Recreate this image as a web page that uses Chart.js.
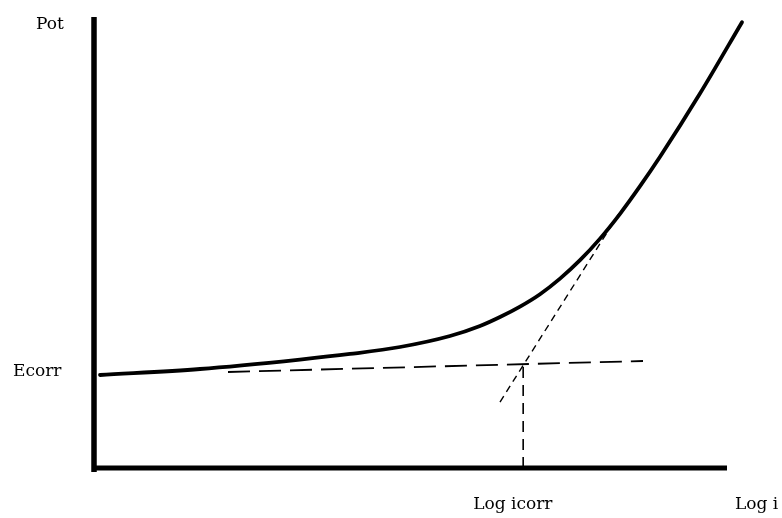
<!DOCTYPE html>
<html>
<head>
<meta charset="utf-8">
<script src="https://cdn.jsdelivr.net/npm/chart.js@4.4.1/dist/chart.umd.min.js"></script>
<style>
  html, body { margin: 0; padding: 0; background: #fff; }
  #wrap { position: relative; width: 782px; height: 518px; }
</style>
</head>
<body>
<div id="wrap"><canvas id="c"></canvas></div>
<script>
// ---- data (arbitrary units: x = log i, y = potential) ----
const curveX = [0.095, 1.675, 3.254, 4.044, 4.834, 5.624, 6.098, 6.414, 6.730, 7.046, 7.362, 7.678, 7.994, 8.310, 8.626, 8.942, 9.573, 10.237];
const curveY = [2.062, 2.195, 2.404, 2.528, 2.683, 2.927, 3.149, 3.348, 3.579, 3.854, 4.200, 4.608, 5.086, 5.636, 6.248, 6.900, 8.302, 9.885];

const cathTangentX = [2.117, 8.673];   // near-horizontal extrapolation
const cathTangentY = [2.129, 2.373];
const anodTangentX = [6.414, 8.310];   // Tafel slope extrapolation
const anodTangentY = [1.463, 5.676];

const logIcorr = 6.78;
const eAtIcorr = 2.30;
const ecorr = 2.062;

const axisXEnd = 10.0;
const axisYEnd = 10.0;

const labelTexts = ["Pot", "Ecorr", "Log icorr", "Log i"];

// ---- helpers ----
const pts = (xs, ys) => xs.map((x, i) => ({ x: x, y: ys[i] }));

const AREA = { x0: 94, xu: 63.3, y0: 468, yu: 45.1, w: 782, h: 518 };

const labelPlugin = {
  id: 'labels',
  afterDraw(chart) {
    const ctx = chart.ctx;
    const xs = chart.scales.x, ys = chart.scales.y;
    ctx.save();
    ctx.fillStyle = '#000';
    ctx.font = '17px "DejaVu Serif", serif';
    ctx.textBaseline = 'alphabetic';
    ctx.textAlign = 'left';
    const ax = xs.getPixelForValue(0);
    const ay = ys.getPixelForValue(0);
    ctx.fillText(labelTexts[0], ax - 58, ys.getPixelForValue(axisYEnd) + 12);
    ctx.fillText(labelTexts[1], 13, ys.getPixelForValue(ecorr) + 1);
    ctx.fillText(labelTexts[2], xs.getPixelForValue(logIcorr) - 50, ay + 41);
    ctx.fillText(labelTexts[3], xs.getPixelForValue(axisXEnd) + 8, ay + 41);
    ctx.restore();
  }
};

new Chart(document.getElementById('c'), {
  type: 'scatter',
  data: {
    datasets: [
      { // y axis
        data: [{ x: 0, y: -0.09 }, { x: 0, y: axisYEnd }],
        showLine: true, borderColor: '#000', borderWidth: 5.5, pointRadius: 0, borderCapStyle: 'butt'
      },
      { // x axis
        data: [{ x: -0.03, y: 0 }, { x: axisXEnd, y: 0 }],
        showLine: true, borderColor: '#000', borderWidth: 5, pointRadius: 0, borderCapStyle: 'butt'
      },
      { // polarization curve
        data: pts(curveX, curveY),
        showLine: true, borderColor: '#000', borderWidth: 3.8, pointRadius: 0,
        cubicInterpolationMode: 'monotone', borderCapStyle: 'round'
      },
      { // near-horizontal tangent
        data: pts(cathTangentX, cathTangentY),
        showLine: true, borderColor: '#000', borderWidth: 1.8, pointRadius: 0,
        borderDash: [22, 9], borderCapStyle: 'butt'
      },
      { // steep tangent
        data: pts(anodTangentX, anodTangentY),
        showLine: true, borderColor: '#000', borderWidth: 1.4, pointRadius: 0,
        borderDash: [7, 5], borderCapStyle: 'butt'
      },
      { // vertical drop to log icorr
        data: [{ x: logIcorr, y: 0 }, { x: logIcorr, y: eAtIcorr }],
        showLine: true, borderColor: '#000', borderWidth: 1.6, pointRadius: 0,
        borderDash: [11, 7], borderCapStyle: 'butt'
      }
    ]
  },
  options: {
    responsive: true,
    maintainAspectRatio: false,
    animation: false,
    layout: { padding: 0 },
    plugins: { legend: { display: false }, tooltip: { enabled: false } },
    scales: {
      x: { type: 'linear', display: false,
           min: -AREA.x0 / AREA.xu, max: (AREA.w - AREA.x0) / AREA.xu },
      y: { type: 'linear', display: false,
           min: -(AREA.h - AREA.y0) / AREA.yu, max: AREA.y0 / AREA.yu }
    }
  },
  plugins: [labelPlugin]
});
</script>
</body>
</html>
